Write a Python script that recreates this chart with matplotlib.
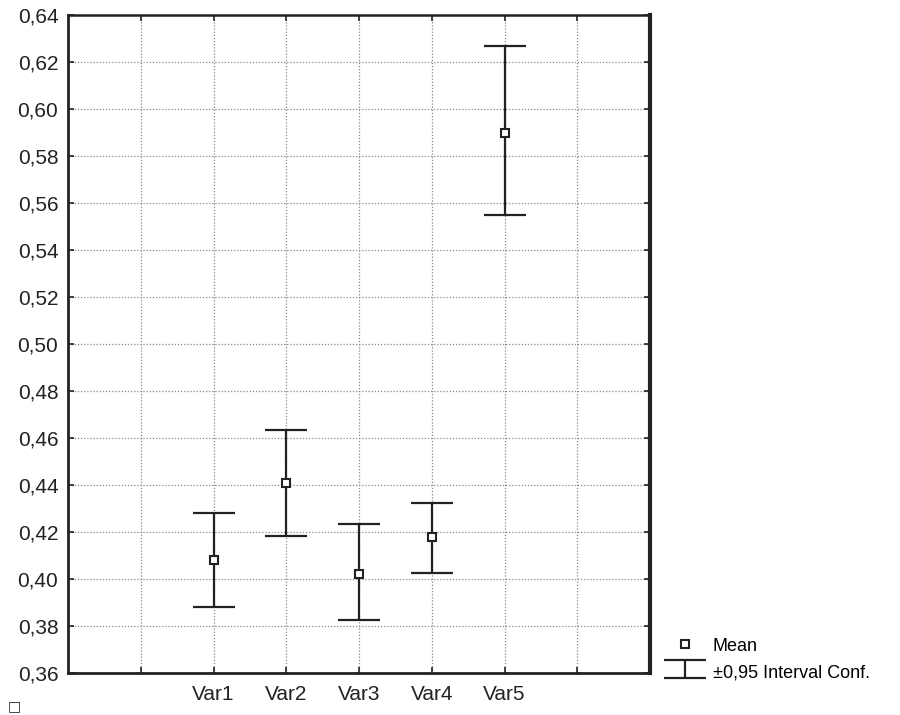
import matplotlib
matplotlib.use("Agg")
import matplotlib.pyplot as plt
from matplotlib.ticker import FuncFormatter, MultipleLocator

plt.rcParams['font.family'] = ['Liberation Sans', 'DejaVu Sans']

categories = ["Var1", "Var2", "Var3", "Var4", "Var5"]
means = [0.408, 0.441, 0.402, 0.418, 0.590]
upper = [0.428, 0.4635, 0.4235, 0.4325, 0.627]
lower = [0.388, 0.4185, 0.3825, 0.4025, 0.555]

positions = list(range(2, 2 + len(categories)))
err_low = [m - l for m, l in zip(means, lower)]
err_up = [u - m for u, m in zip(upper, means)]

fig = plt.figure(figsize=(9, 7.15), dpi=100)
ax = fig.add_axes([68/900, 1 - 673/715, (650-68)/900, (673-15)/715])

eb = ax.errorbar(positions, means, yerr=[err_low, err_up], fmt='none',
                 ecolor='#222222', elinewidth=1.6, capsize=15, capthick=1.6,
                 label='±0,95 Interval Conf.', zorder=3)
mk, = ax.plot(positions, means, 's', ms=6, mfc='white', mec='#222222', mew=1.5,
              linestyle='none', label='Mean', zorder=4)

ax.set_xlim(0, 8)
ax.set_ylim(0.36, 0.64)
ax.yaxis.set_major_locator(MultipleLocator(0.02))
ax.yaxis.set_major_formatter(FuncFormatter(lambda v, p: f"{v:.2f}".replace('.', ',')))
ax.set_xticks(range(1, 8))
ax.set_xticklabels([''] + categories + [''])

ax.grid(True, linestyle=(0, (1, 1.5)), color='#888888', linewidth=0.9)
ax.set_axisbelow(True)

ax.tick_params(axis='both', direction='in', length=4, width=1.2, colors='#222222',
               labelsize=15, labelcolor='#222222', top=True, right=True)
ax.tick_params(axis='x', pad=9)
ax.tick_params(axis='y', pad=7)

for side, lw in [('left', 2.0), ('bottom', 2.0), ('top', 1.8), ('right', 3.0)]:
    ax.spines[side].set_linewidth(lw)
    ax.spines[side].set_color('#222222')

leg = fig.legend(handles=[mk, eb], labels=['Mean', '±0,95 Interval Conf.'],
                 loc='lower left', bbox_to_anchor=(664/900, 1 - 681/715),
                 frameon=False, fontsize=13, handlelength=2.3, handleheight=1.2,
                 handletextpad=0.4, labelspacing=0.35, borderaxespad=0, borderpad=0)

fig.text(14/900, 1 - 706/715, '□', fontsize=10, family=['DejaVu Sans'],
         color='#222222', ha='center', va='center')

fig.savefig('out.png', dpi=100, facecolor='white')
